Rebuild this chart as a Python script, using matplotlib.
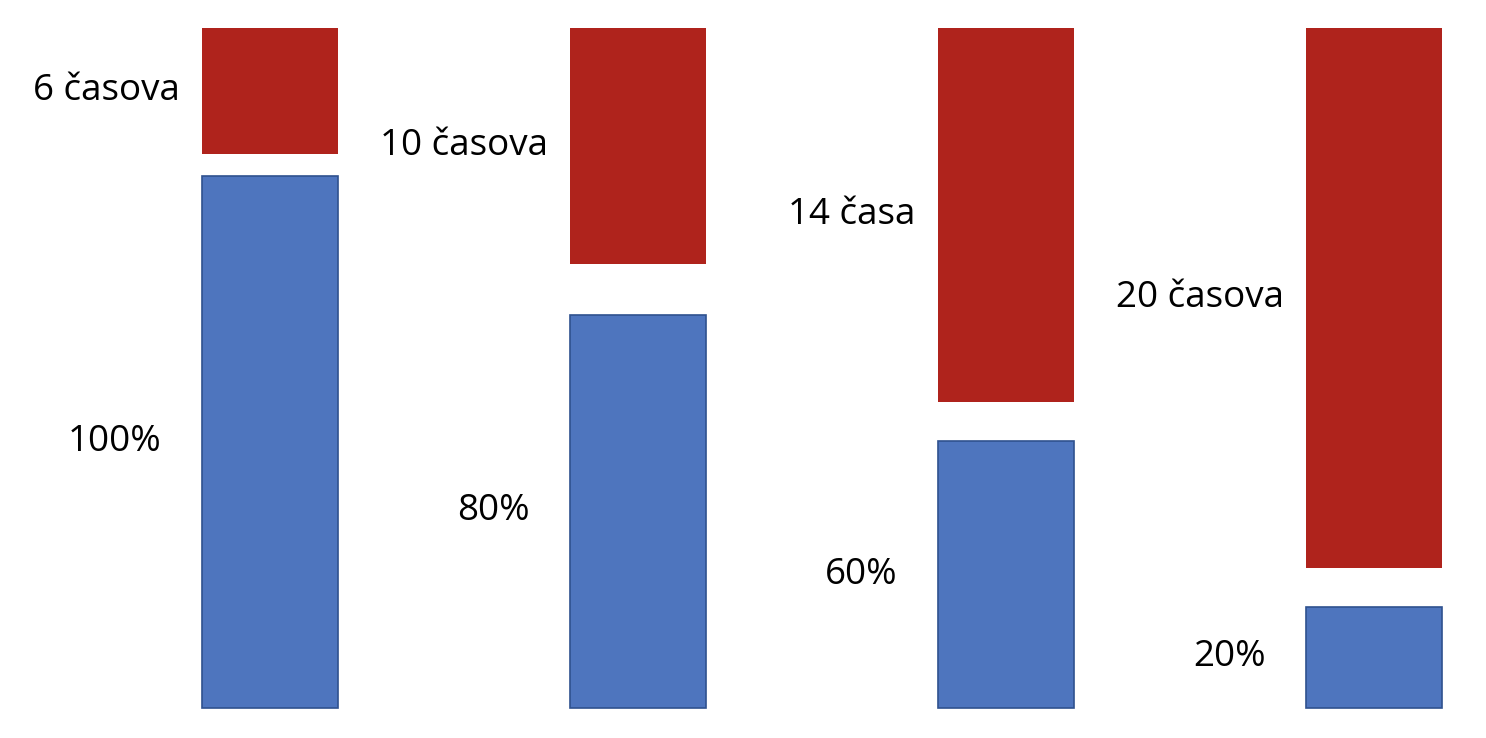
import matplotlib
matplotlib.use("Agg")
import matplotlib.pyplot as plt

# values (vertical units, 680 = full column height)
blue_labels = ["100%", "80%", "60%", "20%"]
blue_heights = [532, 393, 267, 101]
red_labels = ["6 časova", "10 časova", "14 časa", "20 časova"]
red_lengths = [126, 236, 374, 540]
column_top = 680

plt.rcParams["font.family"] = ["Open Sans", "DejaVu Sans"]

fig = plt.figure(figsize=(14.86, 7.38), dpi=100)
ax = fig.add_axes([0, 0, 1, 1])

x = list(range(len(blue_heights)))
width = 0.37

ax.bar(x, blue_heights, width=width, color="#4E75BE", edgecolor="#2F528F", linewidth=1.2)
red_bottoms = [column_top - r for r in red_lengths]
ax.bar(x, red_lengths, bottom=red_bottoms, width=width, color="#AF231C", linewidth=0)

for i in x:
    ax.annotate(blue_labels[i], (i - width / 2, blue_heights[i] / 2),
                xytext=(-29, 0), textcoords="offset points",
                ha="right", va="center", fontsize=26.5)
    ax.annotate(red_labels[i], (i - width / 2, red_bottoms[i] + red_lengths[i] / 2),
                xytext=(-16, 0), textcoords="offset points",
                ha="right", va="center", fontsize=26.5)

ax.set_xlim(-0.734, 3.304)
ax.set_ylim(-30, 708)
ax.axis("off")

fig.savefig("out.png", dpi=100)
